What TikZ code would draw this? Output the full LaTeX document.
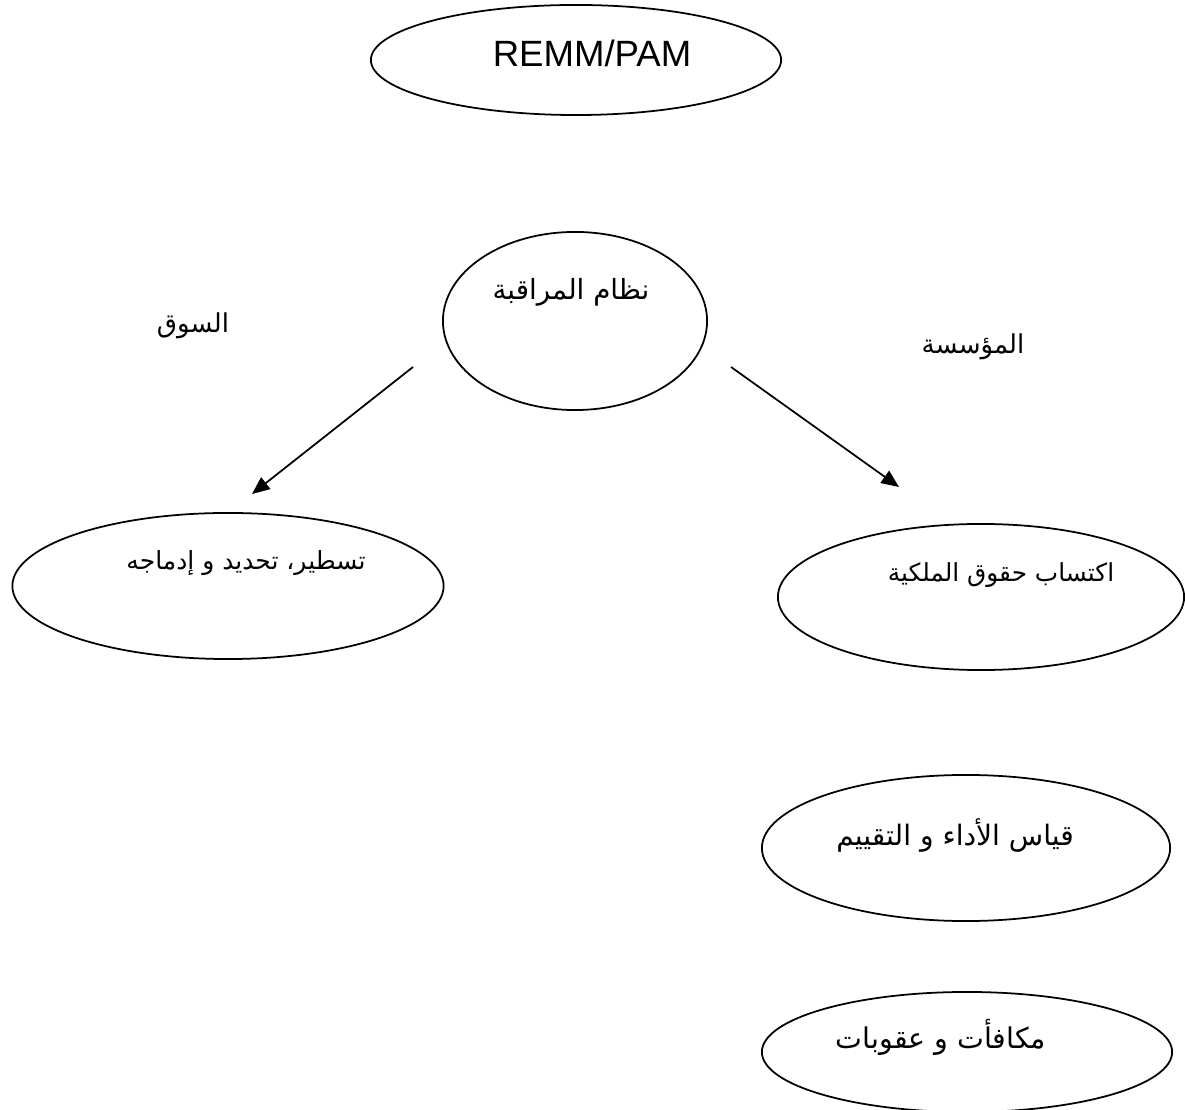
\documentclass[tikz,border=0pt]{standalone}
\usepackage{fontspec}
\setmainfont{Liberation Sans}
\newfontfamily\arabicfont[Script=Arabic]{DejaVu Sans}
\TeXXeTstate=1
\usetikzlibrary{shapes.geometric,arrows.meta}
\begin{document}
\begin{tikzpicture}[x=0.01cm,y=-0.01cm,
  oval/.style={draw,ellipse,line width=0.5pt,inner sep=0pt},
  lbl/.style={inner sep=0pt,anchor=center},
  flow/.style={line width=0.5pt,-{Triangle[length=5pt,width=4.2pt]}}]
\useasboundingbox (0,0) rectangle (1185,1110);
% ellipses
\node[oval,minimum width=4.10cm,minimum height=1.10cm] (top) at (576,60) {};
\node[oval,minimum width=2.64cm,minimum height=1.78cm] (ctrl) at (575,321) {};
\node[oval,minimum width=4.31cm,minimum height=1.46cm] (mkt) at (228,586) {};
\node[oval,minimum width=4.06cm,minimum height=1.46cm] (own) at (981,597) {};
\node[oval,minimum width=4.08cm,minimum height=1.46cm] (perf) at (966,848) {};
\node[oval,minimum width=4.10cm,minimum height=1.20cm] (rew) at (967,1052) {};
% texts
\node[lbl,font=\fontsize{10.4}{12}\selectfont] (ttop) at (592,53) {REMM/PAM};
\node[lbl,font=\fontsize{7.9}{10}\selectfont\arabicfont] (tctrl) at (571,292) {\beginR نظام المراقبة\endR};
\node[lbl,font=\fontsize{7.1}{9}\selectfont\arabicfont] (tmkt) at (246,563) {\beginR تسطير، تحديد و إدماجه\endR};
\node[lbl,font=\fontsize{7.05}{9}\selectfont\arabicfont] (town) at (1001,575) {\beginR اكتساب حقوق  الملكية\endR};
\node[lbl,font=\fontsize{8}{10}\selectfont\arabicfont] (tperf) at (955,836) {\beginR قياس الأداء و التقييم\endR};
\node[lbl,font=\fontsize{8.1}{10}\selectfont\arabicfont] (trew) at (941,1037) {\beginR مكافأت و عقوبات\endR};
\node[lbl,font=\fontsize{7.4}{9}\selectfont\arabicfont] (souq) at (193,326) {\beginR السوق\endR};
\node[lbl,font=\fontsize{7.4}{9}\selectfont\arabicfont] (firm) at (973,347) {\beginR المؤسسة\endR};
% arrows
\coordinate (la) at (413,367);
\coordinate (lb) at (252,494);
\coordinate (ra) at (731,367);
\coordinate (rb) at (899,487);
\draw[flow] (la) -- (lb);
\draw[flow] (ra) -- (rb);
\end{tikzpicture}
\end{document}
